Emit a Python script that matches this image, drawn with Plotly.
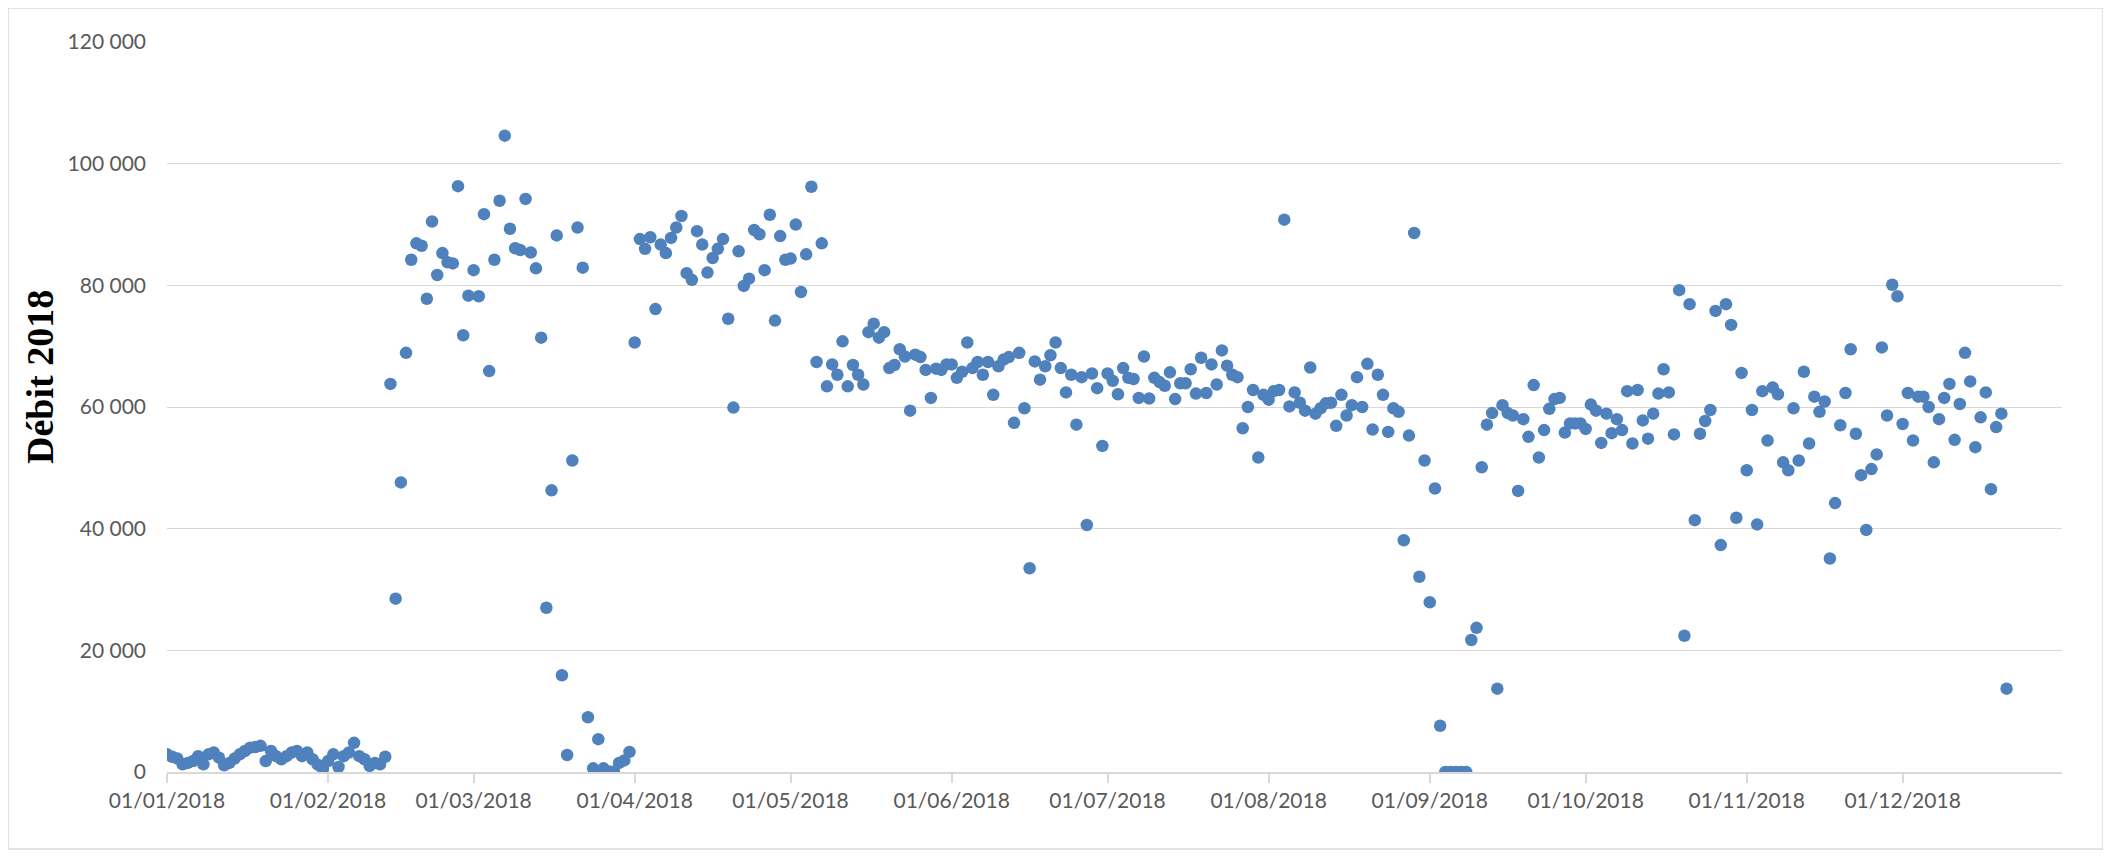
import pandas as pd
import plotly.graph_objects as go

start_date = "2018-01-01"

debit = [
    # janvier - 12 fevrier
    2900, 2500, 2200, 1260, 1500, 1800, 2600, 1260, 2900, 3200,
    2350, 1100, 1500, 2200, 2900, 3450, 4000, 4100, 4300, 1800,
    3450, 2600, 2100, 2600, 3200, 3450, 2600, 3200, 2100, 1200,
    500, 1800, 2900, 820, 2600, 3200, 4800, 2600, 2100, 1000,
    1500, 1260, 2500,
    # 13 fevrier ->
    63800, 28500, 47600, 68900, 84200, 86900, 86500, 77800, 90500, 81700,
    85300, 83800, 83600, 96300, 71800,
    78300, 82500, 78200, 91700, 65900, 84200, 93900, 104600, 89300, 86100,
    85800, 94200, 85400, 82800, 71400, 27000, 46300, 88200, 15900, 2800,
    51200, 89500, 82900, 9000, 600, 5400, 600, 100, 100, 1500,
    1900, 3300,
    # avril
    70600, 87600, 86000, 87900, 76100, 86700, 85300, 87800, 89500, 91400,
    82000, 80900, 88900, 86700, 82100, 84500, 86000, 87600, 74500, 59900,
    85600, 79900, 81100, 89100, 88400, 82500, 91600, 74200, 88100, 84200,
    # mai
    84400, 90000, 78900, 85100, 96200, 67400, 86900, 63400, 67000, 65300,
    70800, 63400, 66900, 65300, 63700, 72300, 73700, 71400, 72300, 66400,
    66900, 69500, 68300, 59400, 68600, 68200, 66100, 61500, 66300, 66100,
    67000,
    # juin
    67000, 64800, 65800, 70600, 66400, 67400, 65300, 67400, 62000, 66700,
    67800, 68200, 57400, 68900, 59800, 33500, 67500, 64500, 66700, 68500,
    70600, 66400, 62400, 65300, 57100, 64900, 40600, 65500, 63100, 53600,
    # juillet
    65500, 64300, 62100, 66400, 64800, 64600, 61500, 68300, 61400, 64800,
    64100, 63500, 65700, 61300, 63900, 63900, 66200, 62200, 68100, 62300,
    67000, 63700, 69300, 66800, 65300, 64900, 56500, 60000, 62800, 51700,
    62000,
    # aout
    61200, 62600, 62800, 90800, 60100, 62400, 60700, 59400, 66500, 58900,
    59800, 60600, 60700, 56900, 62000, 58600, 60300, 64900, 60000, 67100,
    56300, 65300, 62000, 55900, 59800, 59200, 38100, 55300, 88600, 32100,
    51200,
    # septembre
    27900, 46600, 7600, 0, 0, 0, 0, 0, 21700, 23700,
    50100, 57100, 59000, 13700, 60300, 59000, 58600, 46200, 58000, 55100,
    63600, 51700, 56200, 59700, 61300, 61500, 55800, 57300, 57300, 57300,
    # octobre
    56400, 60400, 59400, 54100, 58900, 55700, 58000, 56200, 62600, 54000,
    62800, 57800, 54800, 58900, 62200, 66200, 62400, 55500, 79200, 22400,
    76900, 41400, 55600, 57700, 59500, 75800, 37300, 76900, 73500, 41800,
    65600,
    # novembre
    49600, 59500, 40700, 62600, 54500, 63200, 62100, 50900, 49600, 59800,
    51200, 65800, 54000, 61700, 59200, 60900, 35100, 44200, 57000, 62300,
    69500, 55600, 48800, 39800, 49800, 52200, 69800, 58600, 80100, 78200,
    # decembre
    57200, 62300, 54500, 61700, 61700, 60000, 50900, 58000, 61500, 63800,
    54600, 60500, 68900, 64200, 53400, 58300, 62400, 46500, 56700, 58900,
    13700,
]

dates = pd.date_range(start_date, periods=len(debit), freq="D")

month_ticks = list(pd.date_range("2018-01-01", "2018-12-01", freq="MS"))
y_ticks = [0, 20000, 40000, 60000, 80000, 100000, 120000]
y_tick_labels = ["0", "20 000", "40 000", "60 000", "80 000", "100 000", "120 000"]

# the page body adds an 8px offset; compensate so the picture lines up
OFF = 8
W, H = 2111, 857
L, R, T, B = 167 - OFF, 49 + OFF, 42 - OFF, 85 + OFF
PW, PH = W - L - R, H - T - B

fig = go.Figure()
fig.add_trace(go.Scatter(
    x=dates, y=debit, mode="markers",
    marker=dict(size=12.5, color="#4F81BD", line=dict(width=0)),
    hoverinfo="x+y", showlegend=False,
))

tickfont = dict(family="Lato, 'Open Sans', sans-serif", size=21, color="#595959")

fig.update_layout(
    width=W, height=H, autosize=False,
    margin=dict(l=L, r=R, t=T, b=B),
    paper_bgcolor="white", plot_bgcolor="white",
    xaxis=dict(
        type="date",
        range=["2018-01-01", "2018-12-31 16:00"],
        tickvals=month_ticks,
        tickformat="%d/%m/%Y",
        ticks="outside", ticklen=9, tickwidth=1.5, tickcolor="#D9D9D9",
        showline=True, linecolor="#D9D9D9", linewidth=1.5,
        showgrid=False, zeroline=False,
        tickfont=tickfont,
    ),
    yaxis=dict(
        range=[0, 120000],
        tickvals=y_ticks, ticktext=y_tick_labels,
        showgrid=True, gridcolor="#D9D9D9", gridwidth=1.3,
        zeroline=False, showline=False, ticks="",
        tickfont=tickfont,
        ticklabelstandoff=20,
    ),
)

def px_x(x):  # target pixel -> paper x
    return (x - OFF - L) / PW

def px_y(y):  # target pixel -> paper y
    return (H - B - (y - OFF)) / PH

# y-axis title
fig.add_annotation(
    text="<b>Débit 2018</b>",
    xref="paper", yref="paper",
    x=px_x(40), y=px_y(377),
    xanchor="center", yanchor="middle",
    textangle=-90, showarrow=False,
    font=dict(family="Liberation Serif, 'Times New Roman', serif", size=38, color="black"),
)

# chart border
fig.add_shape(
    type="rect", xref="paper", yref="paper",
    x0=px_x(8), x1=px_x(2103),
    y0=px_y(849), y1=px_y(8),
    line=dict(color="#D9D9D9", width=1.5), fillcolor="rgba(0,0,0,0)",
    layer="below",
)

fig.write_html("out.html")
